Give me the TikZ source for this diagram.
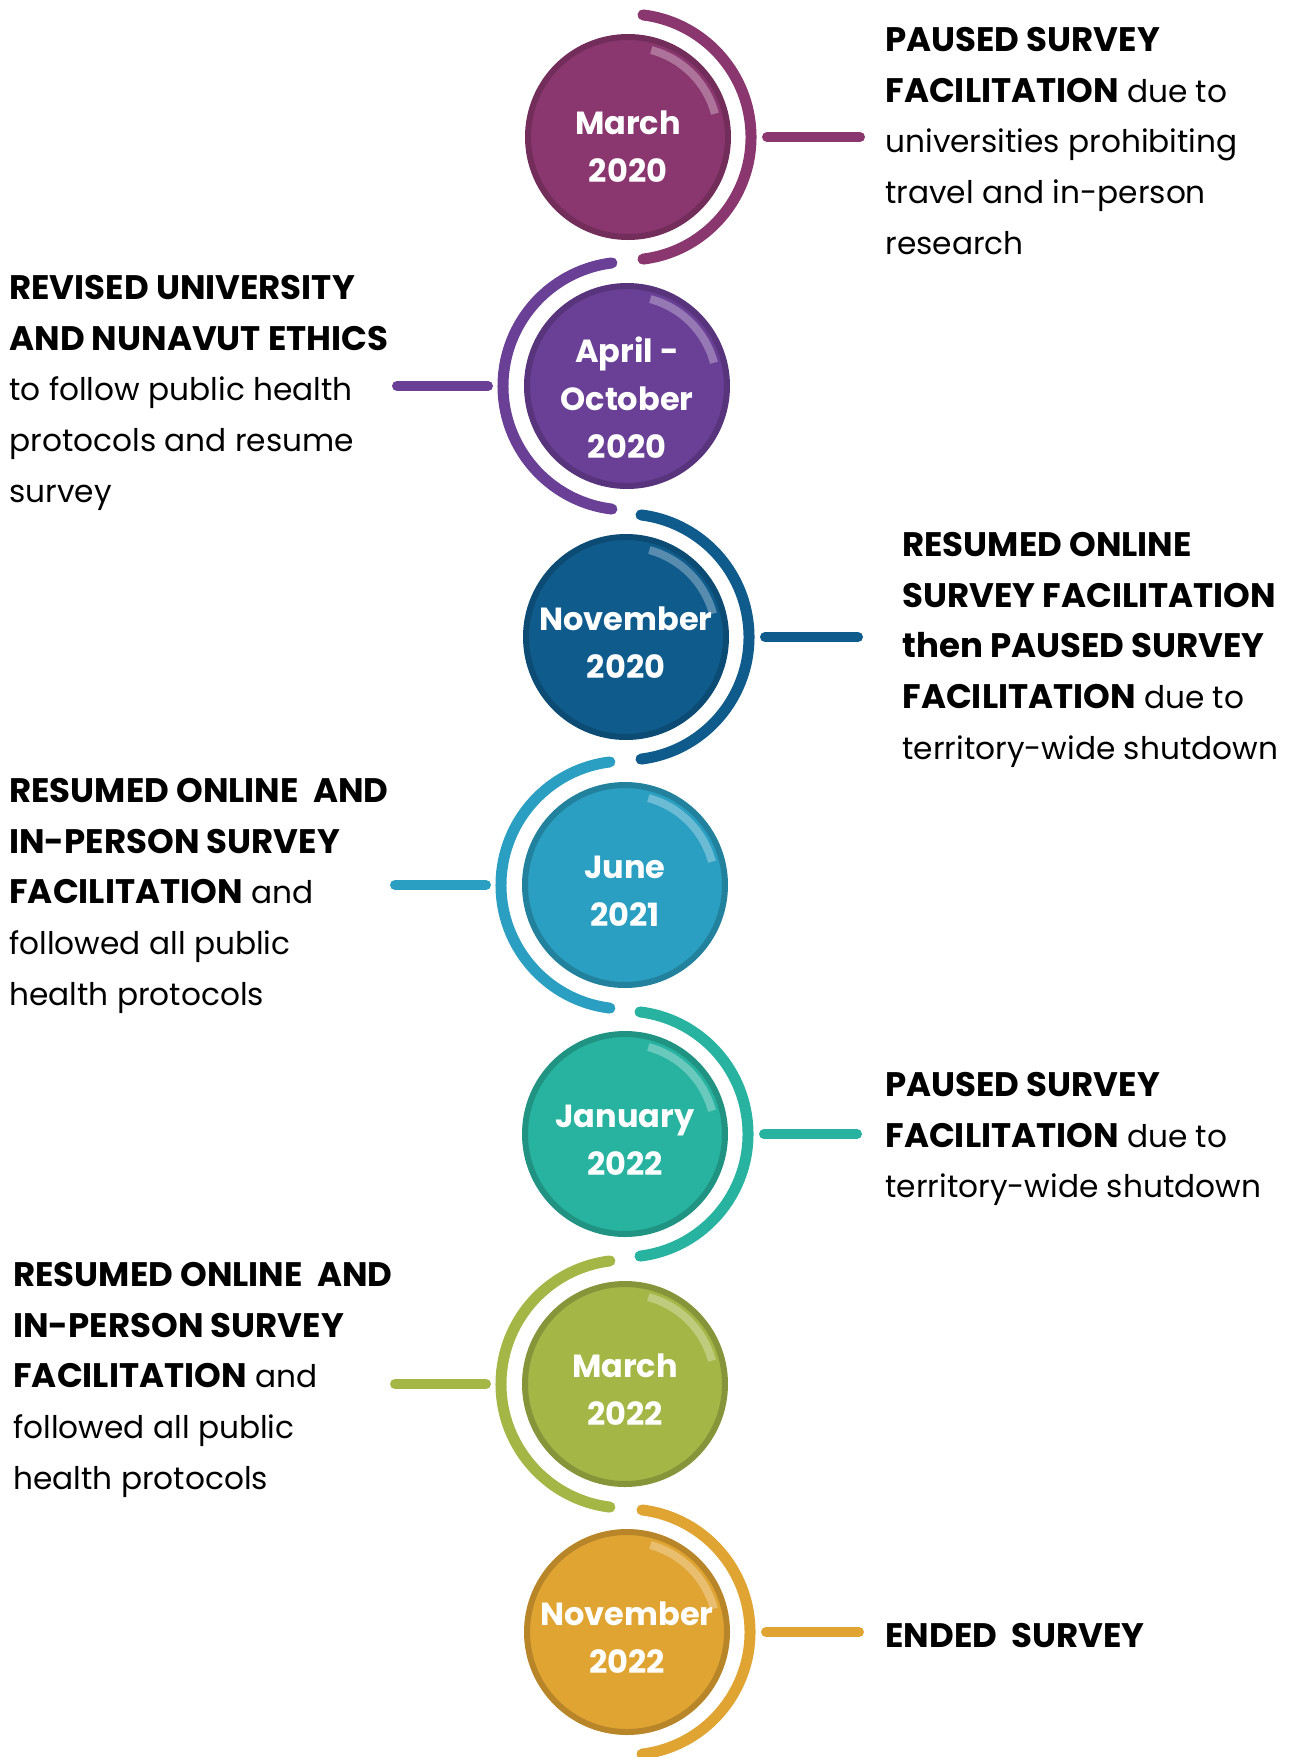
\documentclass[tikz,border=0pt]{standalone}
\usepackage{fontspec}
\setmainfont{Poppins}
\definecolor{plum}{HTML}{8B376F}
\definecolor{grape}{HTML}{6A3F96}
\definecolor{deepsea}{HTML}{0F5B8C}
\definecolor{sky}{HTML}{2A9FC1}
\definecolor{jade}{HTML}{27B3A0}
\definecolor{moss}{HTML}{A4B646}
\definecolor{amber}{HTML}{E0A432}
\newcommand{\hd}[1]{{\fontsize{17}{25.3}\selectfont\bfseries #1}}
\begin{document}
\begin{tikzpicture}[x=0.5pt, y=-0.5pt,
  datebox/.style={circle, minimum size=100pt, inner sep=0pt, outer sep=0pt, fill=#1, draw=#1!82!black, line width=3pt,
    path picture={\draw[white, opacity=0.3, line width=4pt] (path picture bounding box.center) ++(15:45pt) arc[start angle=15, end angle=75, radius=45pt];}},
  datelabel/.style={text=white, font=\fontsize{16}{24}\selectfont\bfseries, align=center},
  ring/.style={#1, line width=5.5pt, line cap=round},
  link/.style={#1, line width=5pt, line cap=round, shorten <=19.5pt},
  note/.style={anchor=north west, inner sep=0pt, align=left, font=\fontsize{15.6}{25.3}\selectfont}]
\useasboundingbox (0,0) rectangle (1291,1757);

\node[datebox=plum] (d1) at (628,137) {};
\node[datebox=grape] (d2) at (627,386) {};
\node[datebox=deepsea] (d3) at (626,637) {};
\node[datebox=sky] (d4) at (625,885) {};
\node[datebox=jade] (d5) at (625,1134) {};
\node[datebox=moss] (d6) at (625,1384) {};
\node[datebox=amber] (d7) at (627,1632) {};

\node[datelabel] (l1) at ([yshift=-5pt]d1.center) {March\\2020};
\node[datelabel] (l2) at ([yshift=-6pt]d2.center) {April -\\October\\2020};
\node[datelabel] (l3) at ([yshift=-3pt]d3.center) {November\\2020};
\node[datelabel] (l4) at ([yshift=-3pt]d4.center) {June\\2021};
\node[datelabel] (l5) at ([yshift=-3pt]d5.center) {January\\2022};
\node[datelabel] (l6) at ([yshift=-3pt]d6.center) {March\\2022};
\node[datelabel] (l7) at ([yshift=-3pt]d7.center) {November\\2022};

\draw[ring=plum] (d1.center) ++(83:123) arc[start angle=83, end angle=-83, radius=123];
\draw[ring=grape] (d2.center) ++(97:124) arc[start angle=97, end angle=263, radius=124];
\draw[ring=deepsea] (d3.center) ++(83:123) arc[start angle=83, end angle=-83, radius=123];
\draw[ring=sky] (d4.center) ++(97:124) arc[start angle=97, end angle=263, radius=124];
\draw[ring=jade] (d5.center) ++(83:123) arc[start angle=83, end angle=-83, radius=123];
\draw[ring=moss] (d6.center) ++(97:124) arc[start angle=97, end angle=263, radius=124];
\draw[ring=amber] (d7.center) ++(83:123) arc[start angle=83, end angle=-83, radius=123];

\draw[link=plum] (d1.east) -- ++(132,0);
\draw[link=grape] (d2.west) -- ++(-130,0);
\draw[link=deepsea] (d3.east) -- ++(132,0);
\draw[link=sky] (d4.west) -- ++(-130,0);
\draw[link=jade] (d5.east) -- ++(132,0);
\draw[link=moss] (d6.west) -- ++(-130,0);
\draw[link=amber] (d7.east) -- ++(132,0);

\node[note] (t1) at (885,27) {\hd{PAUSED SURVEY}\\\hd{FACILITATION} due to\\universities prohibiting\\travel and in-person\\research};
\node[note] (t2) at (9,275) {\hd{REVISED UNIVERSITY}\\\hd{AND NUNAVUT ETHICS}\\to follow public health\\protocols and resume\\survey};
\node[note] (t3) at (902,532) {\hd{RESUMED ONLINE}\\\hd{SURVEY FACILITATION}\\\hd{then PAUSED SURVEY}\\\hd{FACILITATION} due to\\territory-wide shutdown};
\node[note] (t4) at (9,778) {\hd{RESUMED ONLINE\ \ AND}\\\hd{IN-PERSON SURVEY}\\\hd{FACILITATION} and\\followed all public\\health protocols};
\node[note] (t5) at (885,1072) {\hd{PAUSED SURVEY}\\\hd{FACILITATION} due to\\territory-wide shutdown};
\node[note] (t6) at (13,1262) {\hd{RESUMED ONLINE\ \ AND}\\\hd{IN-PERSON SURVEY}\\\hd{FACILITATION} and\\followed all public\\health protocols};
\node[note] (t7) at (885,1623) {\hd{ENDED\ \ SURVEY}};
\end{tikzpicture}
\end{document}
